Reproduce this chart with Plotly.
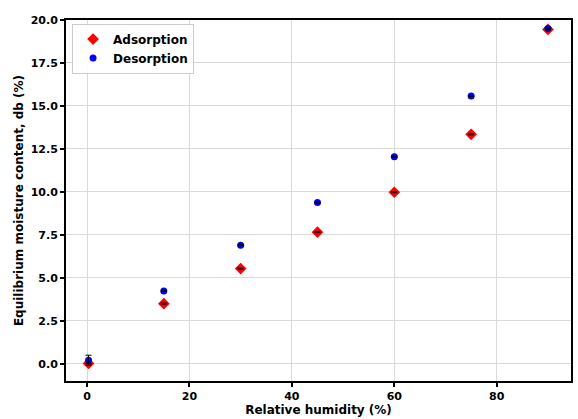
import plotly.graph_objects as go

rh = [0.3, 15, 30, 45, 60, 75, 90]
adsorption = [0.02, 3.5, 5.54, 7.66, 9.98, 13.35, 19.45]
desorption = [0.2, 4.24, 6.9, 9.38, 12.05, 15.58, 19.5]
ads_err = [0.03, 0.03, 0.03, 0.03, 0.03, 0.03, 0.03]
des_err = [0.3, 0.03, 0.03, 0.03, 0.03, 0.03, 0.03]

font = dict(family="DejaVu Sans", color="black")

fig = go.Figure()
fig.add_trace(go.Scatter(
    x=rh, y=adsorption, mode="markers", name="Adsorption",
    marker=dict(symbol="diamond", size=9, color="red"),
))
fig.add_trace(go.Scatter(
    x=rh, y=desorption, mode="markers", name="Desorption",
    marker=dict(symbol="circle", size=7, color="blue"),
))
# error bars drawn on top of the markers
fig.add_trace(go.Scatter(
    x=rh, y=adsorption, mode="markers", showlegend=False, hoverinfo="skip",
    marker=dict(size=1, opacity=0),
    error_y=dict(type="data", array=ads_err, color="black", thickness=1, width=3),
))
fig.add_trace(go.Scatter(
    x=rh, y=desorption, mode="markers", showlegend=False, hoverinfo="skip",
    marker=dict(size=1, opacity=0),
    error_y=dict(type="data", array=des_err, color="black", thickness=1, width=3),
))

axis_common = dict(
    showgrid=True, gridcolor="#d9d9d9", gridwidth=1,
    showline=True, linecolor="black", linewidth=2, mirror=True,
    ticks="outside", ticklen=4, tickwidth=1.5, tickcolor="black",
    zeroline=False,
    tickfont=dict(family="DejaVu Sans", size=11, color="black", weight="bold"),
)

fig.update_xaxes(range=[-4.1, 94.5], tickvals=[0, 20, 40, 60, 80],
                 title=dict(text="Relative humidity (%)", standoff=2,
                            font=dict(family="DejaVu Sans", size=12, color="black", weight="bold")),
                 **axis_common)
fig.update_yaxes(range=[-1, 20], tickvals=[0, 2.5, 5, 7.5, 10, 12.5, 15, 17.5, 20],
                 tickformat=".1f",
                 title=dict(text="Equilibrium moisture content, db (%)", standoff=4,
                            font=dict(family="DejaVu Sans", size=12, color="black", weight="bold")),
                 **axis_common)

fig.update_layout(
    width=578, height=419,
    margin=dict(l=66, r=5, t=20, b=38),
    plot_bgcolor="white", paper_bgcolor="white",
    font=font,
    showlegend=True,
    legend=dict(x=0.012, y=0.99, xanchor="left", yanchor="top",
                bgcolor="rgba(255,255,255,0.9)", bordercolor="#cccccc", borderwidth=1,
                tracegroupgap=0,
                font=dict(family="DejaVu Sans", size=12, color="black", weight="bold")),
)

fig.write_html("out.html", config={"displayModeBar": False},
               post_script="document.body.style.margin='0px';")
